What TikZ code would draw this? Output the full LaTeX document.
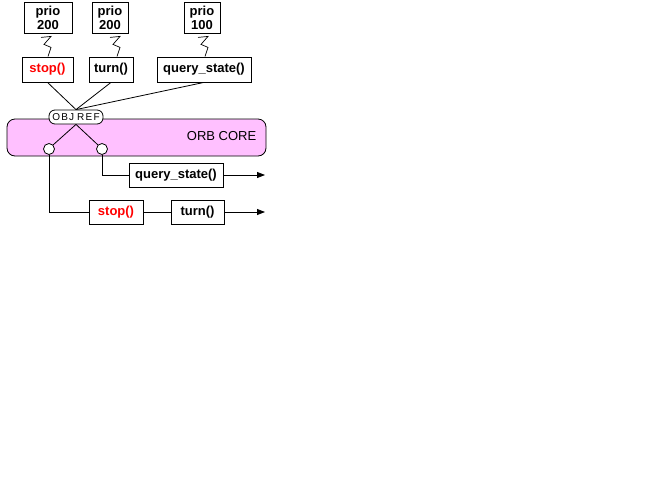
\documentclass[tikz,border=0pt]{standalone}
\usepackage{fontspec}
\setmainfont{Liberation Sans}
\usetikzlibrary{arrows.meta}
\begin{document}
\begin{tikzpicture}[x=1pt,y=-1pt,line width=0.8pt,
 prio/.style={draw,fill=white,inner sep=0pt,minimum height=31,align=center,font=\fontsize{13}{14}\selectfont\bfseries},
 meth/.style={draw,fill=white,inner sep=0pt,minimum height=25,font=\fontsize{13}{14}\selectfont\bfseries},
 methR/.style={meth,text=red},
 port/.style={draw,fill=white,shape=circle,inner sep=0pt,minimum size=11},
 objref/.style={draw,fill=white,rounded corners=6,inner sep=0pt,minimum width=54,minimum height=14,font=\fontsize{10}{10}\selectfont},
 flow/.style={-{Triangle[length=8pt,width=6pt]}}]
\useasboundingbox (0,0) rectangle (646,491);

% orb core
\draw[fill={rgb,255:red,255;green,192;blue,255},rounded corners=8] (7,119) rectangle (266,156);
\node[anchor=east,font=\fontsize{13}{14}\selectfont] (core) at (260,136) {ORB CORE};

\node[objref] (ref) at (76,117) {O\kern1.2ptB\kern1.2ptJ\kern3ptR\kern1.2ptE\kern1.2ptF};
\node[port] (pl) at (49,149) {};
\node[port] (pr) at (102,149) {};
\draw (ref.south) -- (pl.north east);
\draw (ref.south) -- (pr.north west);

% priorities
\node[prio,minimum width=48] (pa) at (48,17.5) {prio\\200};
\node[prio,minimum width=36] (pb) at (110,17.5) {prio\\200};
\node[prio,minimum width=36] (pc) at (202,17.5) {prio\\100};

% requests
\node[methR,minimum width=51] (sa) at (47.5,69.5) {stop()};
\node[meth,minimum width=44] (ta) at (111,69.5) {turn()};
\node[meth,minimum width=94] (qa) at (204,69.5) {query\_state()};

\foreach \p/\dx in {pa/0,pb/7,pc/3}
  \draw[line width=0.7pt] (\p.south) ++(\dx-7,4) -- ++(10,-1) -- ++(-7,8) -- ++(7,3) -- ++(-3,9);

\draw (sa.south) -- (ref.north);
\draw (ta.south) -- (ref.north);
\draw (qa.south) -- (ref.north);

% queues
\node[meth,minimum width=94,minimum height=24] (qb) at (176,175) {query\_state()};
\node[methR,minimum width=54,minimum height=24] (sb) at (116,212) {stop()};
\node[meth,minimum width=53,minimum height=24] (tb) at (197.5,212) {turn()};
\coordinate (qend) at (265,175);
\coordinate (tend) at (265,212);

\draw (pr.south) |- (qb.west);
\draw (pl.south) |- (sb.west);
\draw (sb.east) -- (tb.west);
\draw[flow] (qb.east) -- (qend);
\draw[flow] (tb.east) -- (tend);
\end{tikzpicture}
\end{document}
